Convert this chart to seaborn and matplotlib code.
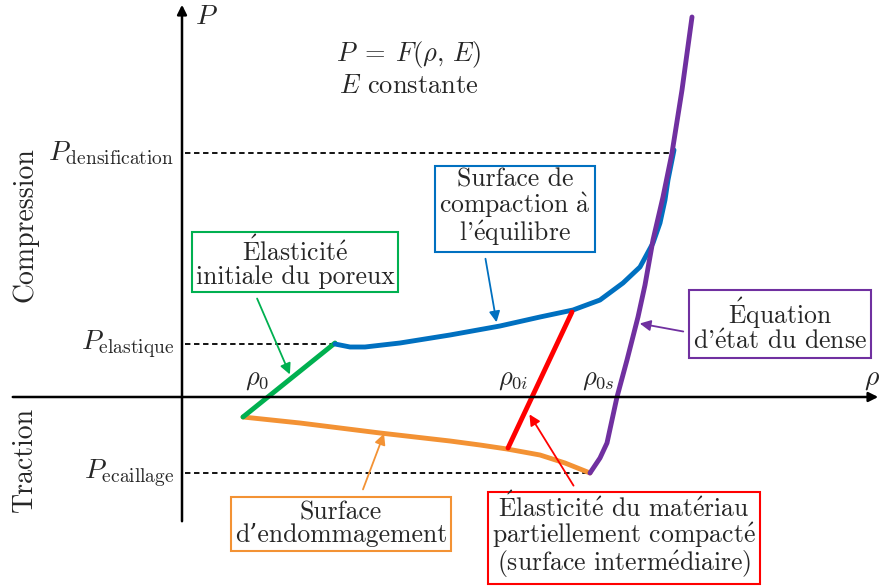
import pandas as pd
import numpy as np
import matplotlib
matplotlib.use("Agg")
import matplotlib.pyplot as plt
import seaborn as sns

# curves of the P = F(rho, E) diagram (schematic units, origin at axes crossing)
green_rho = [61, 153]
green_p = [-20, 54]

blue_rho = [153, 168, 183, 218, 268, 318, 358, 391, 418, 441, 458, 471, 478, 483, 486, 490, 492]
blue_p = [53, 50, 50, 54, 62, 71, 80, 87, 97, 114, 130, 154, 174, 197, 217, 237, 247]

purple_rho = [408, 418, 425, 430, 435, 445, 456, 463, 471, 481, 490, 500, 510]
purple_p = [-76, -61, -46, -23, 0, 37, 80, 112, 157, 200, 244, 307, 380]

red_rho = [326, 390]
red_p = [-51, 85]

orange_rho = [61, 118, 198, 268, 298, 325, 358, 383, 408]
orange_p = [-20, -26, -36, -44, -48, -52, -58, -66, -76]

p_levels = [244, 53, -76]
p_level_end = [493, 153, 408]
p_level_labels = [r"$P_{\mathrm{densification}}$", r"$P_{\mathrm{elastique}}$", r"$P_{\mathrm{ecaillage}}$"]

rho_labels = [r"$\rho_0$", r"$\rho_{0i}$", r"$\rho_{0s}$"]
rho_label_x = [75, 331, 416]

c_green = "#00b050"
c_blue = "#0070c0"
c_purple = "#7030a0"
c_orange = "#f39234"
c_red = "#ff0000"


def tex(s):
    # cmr10 has no accented glyphs, build them with mathtext accents
    if any(a in s for a in "Ééà"):
        for a, b in [("É", r"$\mathrm{\acute{E}}$"), ("é", r"$\mathrm{\acute{e}}$"), ("à", r"$\mathrm{\grave{a}}$")]:
            s = s.replace(a, b)
        s = s.replace("$$", "").replace("’", "'")
    return s


sns.set_theme(style="white")
plt.rcParams["font.family"] = ["cmr10", "DejaVu Serif"]
plt.rcParams["mathtext.fontset"] = "cm"
plt.rcParams["axes.unicode_minus"] = False

fig = plt.figure(figsize=(8.82, 5.87), dpi=100)
ax = fig.add_axes([0, 0, 1, 1])

# axes with arrows
ax.annotate("", xy=(0, 395), xytext=(0, -127),
            arrowprops=dict(arrowstyle="-|>", color="black", lw=1.8, mutation_scale=14))
ax.annotate("", xy=(699, 0), xytext=(-172, 0),
            arrowprops=dict(arrowstyle="-|>", color="black", lw=1.8, mutation_scale=14))
ax.text(13, 380, r"$P$", fontsize=20, ha="left", va="center")
ax.text(690, 18, r"$\rho$", fontsize=20, ha="center", va="center")

# dashed reference levels
for lev, end, lab in zip(p_levels, p_level_end, p_level_labels):
    ax.plot([3, end], [lev, lev], color="black", lw=1.3, ls=(0, (3, 2)))
    ax.text(-8, lev, lab, fontsize=20, ha="right", va="center")

ax.text(-157, 172, "Compression", fontsize=20, rotation=90, ha="center", va="center")
ax.text(-157, -62, "Traction", fontsize=20, rotation=90, ha="center", va="center")

ax.text(227, 342, r"$P\;=\;F(\rho,\,E)$", fontsize=19, ha="center", va="center")
ax.text(227, 311, r"$E$ constante", fontsize=19, ha="center", va="center")

# curves
curves = [
    (orange_rho, orange_p, c_orange),
    (green_rho, green_p, c_green),
    (blue_rho, blue_p, c_blue),
    (red_rho, red_p, c_red),
    (purple_rho, purple_p, c_purple),
]
for xs, ys, col in curves:
    df = pd.DataFrame({"rho": xs, "P": ys})
    sns.lineplot(data=df, x="rho", y="P", sort=False, estimator=None,
                 color=col, lw=3.5, ax=ax)
ax.set_xlim(-182, 700)
ax.set_ylim(-190, 397)
ax.axis("off")

for lab, x in zip(rho_labels, rho_label_x):
    ax.text(x, 17, lab, fontsize=19, ha="center", va="center")

# annotation boxes
boxes = [
    ("Élasticité\ninitiale du poreux", (113, 135), (74, 101), (109, 20), c_green),
    ("Surface de\ncompaction à\nl’équilibre", (333, 189), (303, 141), (315, 72), c_blue),
    ("Équation\nd’état du dense", (598, 72), (504, 65), (455, 74), c_purple),
    ("Surface\nd’endommagement", (159, -127), (180, -95), (203, -34), c_orange),
    ("Élasticité du matériau\npartiellement compacté\n(surface intermédiaire)", (442, -139), (393, -91), (346, -15), c_red),
]
for txt, (tx, ty), start, tip, col in boxes:
    ax.annotate("", xy=tip, xytext=start,
                arrowprops=dict(arrowstyle="-|>", color=col, lw=1.3, mutation_scale=16))
    ax.text(tx, ty, tex(txt), fontsize=18.5, ha="center", va="center", linespacing=0.95,
            bbox=dict(boxstyle="square,pad=0.15", fc="white", ec=col, lw=1.5))

fig.savefig("out.png", dpi=100)
